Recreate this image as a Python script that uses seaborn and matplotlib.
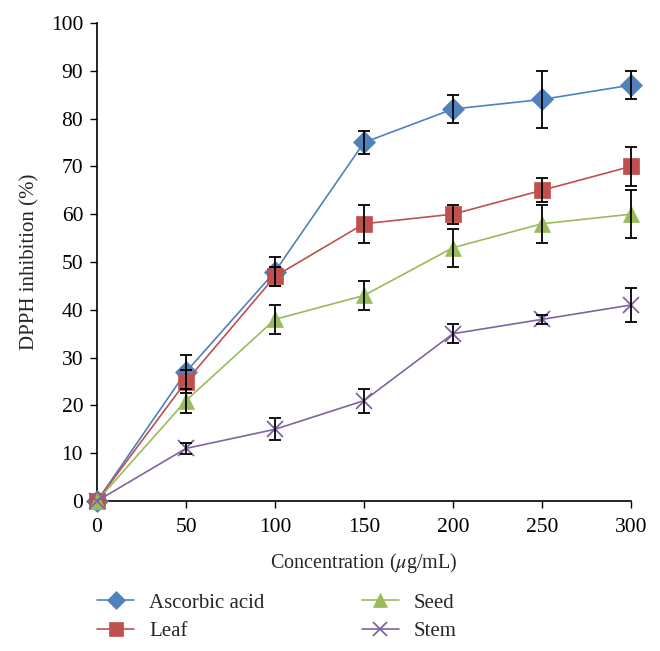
import numpy as np
import pandas as pd
import seaborn as sns
import matplotlib
matplotlib.use("Agg")
import matplotlib.pyplot as plt
from matplotlib.lines import Line2D

conc = [0, 50, 100, 150, 200, 250, 300]
series_names = ["Ascorbic acid", "Leaf", "Seed", "Stem"]
ascorbic = [0, 27, 48, 75, 82, 84, 87]
leaf = [0, 25, 47, 58, 60, 65, 70]
seed = [0, 21, 38, 43, 53, 58, 60]
stem = [0, 11, 15, 21, 35, 38, 41]
ascorbic_err = [0, 3.5, 3, 2.5, 3, 6, 3]
leaf_err = [0, 2.5, 2, 4, 2, 2.5, 4]
seed_err = [0, 2.5, 3, 3, 4, 4, 5]
stem_err = [0, 1.2, 2.3, 2.5, 2, 1, 3.5]

values = [ascorbic, leaf, seed, stem]
errors = [ascorbic_err, leaf_err, seed_err, stem_err]
colors = ["#4F81BD", "#C0504D", "#9BBB59", "#8064A2"]
markers = ["D", "s", "^", "x"]
msizes = [11, 12, 12, 12]

rows = []
for name, vals in zip(series_names, values):
    for c, v in zip(conc, vals):
        rows.append({"Concentration": c, "Inhibition": v, "Series": name})
df = pd.DataFrame(rows)

sns.set_theme(style="white")
plt.rcParams["font.family"] = ["Liberation Serif", "DejaVu Serif"]
plt.rcParams["mathtext.fontset"] = "stix"

fig = plt.figure(figsize=(6.6, 6.51), dpi=100)
ax = fig.add_axes([0.147, 0.2304, 0.809, 0.7343])

for name, col, mk, ms in zip(series_names, colors, markers, msizes):
    sub = df[df["Series"] == name]
    sns.lineplot(data=sub, x="Concentration", y="Inhibition", ax=ax, color=col,
                 marker=mk, markersize=ms, linewidth=1.2, markeredgecolor=col,
                 markeredgewidth=1.3 if mk == "x" else 0.5, clip_on=False,
                 legend=False, errorbar=None, zorder=3)

for vals, errs in zip(values, errors):
    x = np.array(conc[1:])
    ax.errorbar(x, vals[1:], yerr=errs[1:], fmt="none", ecolor="black",
                elinewidth=1.3, capsize=4.5, capthick=1.3, zorder=4, clip_on=False)

ax.set_xlim(0, 300)
ax.set_ylim(0, 100)
ax.set_xticks(range(0, 301, 50))
ax.set_yticks(range(0, 101, 10))
ax.tick_params(axis="both", direction="out", length=5, width=1, colors="black",
               labelsize=15.5, left=True, bottom=True)
ax.tick_params(axis="x", pad=7)
ax.tick_params(axis="y", pad=5)
for s in ["top", "right"]:
    ax.spines[s].set_visible(False)
for s in ["left", "bottom"]:
    ax.spines[s].set_color("black")
    ax.spines[s].set_linewidth(1.2)

ax.set_xlabel(r"Concentration ($\mu$g/mL)", fontsize=14.5, labelpad=10)
ax.set_ylabel("DPPH inhibition (%)", fontsize=15, labelpad=8)

handles = [Line2D([0], [0], color=c, marker=m, markersize=ms * 0.85, linewidth=1.2,
                  markeredgecolor=c, markeredgewidth=1.3 if m == "x" else 0.5)
           for c, m, ms in zip(colors, markers, msizes)]
fig.legend(handles, series_names, loc="upper left", bbox_to_anchor=(0.135, 0.102),
           ncol=2, frameon=False, fontsize=15, handlelength=1.75, columnspacing=4.7,
           labelspacing=0.45, handletextpad=0.72, borderaxespad=0)

fig.savefig("out.png", dpi=100)
